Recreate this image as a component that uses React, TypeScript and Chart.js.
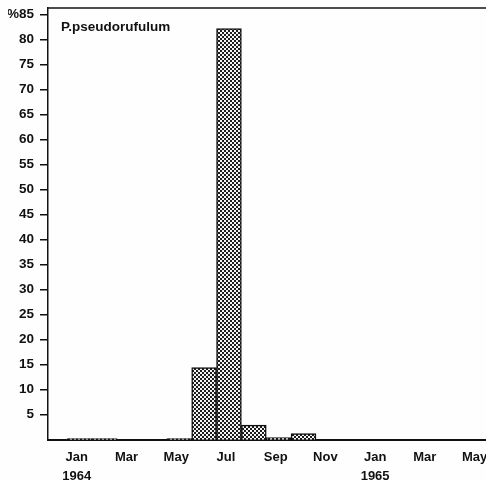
import React, { useEffect, useRef } from "react";
import { Chart, registerables } from "chart.js";

Chart.register(...registerables);

// Month index: 0 = Jan 1964 ... 16 = May 1965
const monthIndex = [0, 1, 2, 3, 4, 5, 6, 7, 8, 9, 10, 11, 12, 13, 14, 15, 16];
const percentValues = [0.2, 0.2, 0, 0, 0.2, 14.4, 82.2, 2.9, 0.4, 1.2, 0, 0, 0, 0, 0, 0, 0];
const xTickValues = [0, 2, 4, 6, 8, 10, 12, 14, 16];
const xTickLabels: (string | string[])[] = [
  ["Jan", "1964"],
  "Mar",
  "May",
  "Jul",
  "Sep",
  "Nov",
  ["Jan", "1965"],
  "Mar",
  "May",
];
const yTickValues = [5, 10, 15, 20, 25, 30, 35, 40, 45, 50, 55, 60, 65, 70, 75, 80, 85];
const seriesName = "P.pseudorufulum";

const FONT = '"Liberation Sans", Arial, Helvetica, sans-serif';
const INK = "#111111";

function makePattern(): CanvasPattern | string {
  const c = document.createElement("canvas");
  c.width = 4;
  c.height = 4;
  const g = c.getContext("2d");
  if (!g) return "#555";
  g.fillStyle = "#1c1c1c";
  g.fillRect(0, 0, 4, 4);
  g.fillStyle = "#f4f4f4";
  g.fillRect(0, 0, 2, 2);
  g.fillRect(2, 2, 2, 2);
  const p = g.createPattern(c, "repeat");
  return p || "#555";
}

const framePlugin = {
  id: "framePlugin",
  beforeDraw(chart: any) {
    const { ctx, width, height } = chart;
    ctx.save();
    ctx.fillStyle = "#fefefe";
    ctx.fillRect(0, 0, width, height);
    ctx.restore();
  },
  afterDraw(chart: any) {
    const { ctx, chartArea } = chart;
    ctx.save();
    ctx.strokeStyle = INK;
    ctx.lineWidth = 1.5;
    ctx.beginPath();
    ctx.moveTo(chartArea.left, chartArea.top);
    ctx.lineTo(chartArea.right, chartArea.top);
    ctx.stroke();
    ctx.fillStyle = INK;
    ctx.font = `bold 13.5px ${FONT}`;
    ctx.textBaseline = "middle";
    ctx.textAlign = "left";
    ctx.fillText(seriesName, chartArea.left + 13, chartArea.top + 19);
    ctx.restore();
  },
};

export default function App() {
  const ref = useRef<HTMLCanvasElement | null>(null);

  useEffect(() => {
    if (!ref.current) return;
    const chart = new Chart(ref.current, {
      type: "bar",
      data: {
        datasets: [
          {
            label: seriesName,
            data: monthIndex.map((m, i) => ({ x: m, y: percentValues[i] })),
            backgroundColor: makePattern() as any,
            borderColor: INK,
            borderWidth: 1.5,
            barPercentage: 1,
            categoryPercentage: 1,
          },
        ],
      },
      options: {
        animation: false,
        responsive: false,
        devicePixelRatio: 1,
        layout: { padding: { left: 8, top: 8, right: 0, bottom: 0 } },
        plugins: { legend: { display: false }, tooltip: { enabled: false } },
        scales: {
          x: {
            type: "linear",
            min: -1.28,
            max: 16.34,
            offset: false,
            grid: { display: false, drawTicks: false },
            border: { display: true, color: INK, width: 2 },
            afterBuildTicks: (s: any) => {
              s.ticks = xTickValues.map((v) => ({ value: v }));
            },
            afterFit: (s: any) => {
              s.height = 40.3;
              s.paddingLeft = 0;
              s.paddingRight = 0;
            },
            ticks: {
              autoSkip: false,
              maxRotation: 0,
              minRotation: 0,
              padding: 8,
              labelOffset: -3,
              color: INK,
              font: { family: FONT, size: 13, weight: "bold", lineHeight: 1.46 },
              callback: (_v: any, i: number) => xTickLabels[i],
            },
          },
          y: {
            type: "linear",
            min: 0,
            max: 86.3,
            grid: {
              display: true,
              drawOnChartArea: false,
              drawTicks: true,
              tickLength: 8,
              color: INK,
              lineWidth: 1.5,
            },
            border: { display: true, color: INK, width: 1.5 },
            afterBuildTicks: (s: any) => {
              s.ticks = yTickValues.map((v) => ({ value: v }));
            },
            afterFit: (s: any) => {
              s.width = 40;
              s.paddingTop = 0;
              s.paddingBottom = 0;
            },
            ticks: {
              autoSkip: false,
              padding: 6,
              color: INK,
              font: { family: FONT, size: 13.5, weight: "bold" },
              callback: (v: any) => (v === 85 ? "%85" : String(v)),
            },
          },
        },
      } as any,
      plugins: [framePlugin],
    });
    return () => chart.destroy();
  }, []);

  return (
    <div style={{ position: "fixed", left: 0, top: 0, width: 486, height: 480, background: "#fefefe" }}>
      <canvas ref={ref} width={486} height={480} style={{ width: 486, height: 480, display: "block" }} />
    </div>
  );
}
